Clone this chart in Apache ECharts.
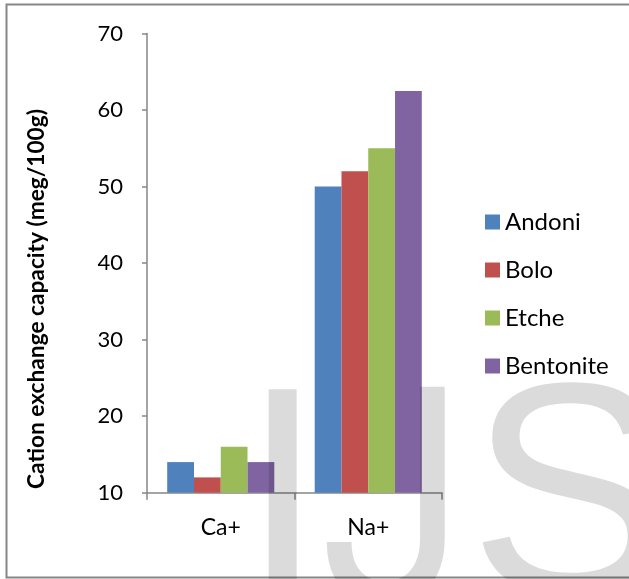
<!DOCTYPE html>
<html>
<head>
<meta charset="utf-8">
<title>Cation exchange capacity</title>
<script src="https://cdn.jsdelivr.net/npm/echarts@6/dist/echarts.min.js"></script>
<style>
  html, body { margin: 0; padding: 0; background: #fff; }
  #chart { width: 629px; height: 579px; }
</style>
</head>
<body>
<div id="chart"></div>
<script>
// Exchangeable cations measured for each clay sample (meq/100g)
const categories = ['Ca+', 'Na+'];
const andoni = [14, 50];
const bolo = [12, 52];
const etche = [16, 55];
const bentonite = [14, 62.5];
const seriesNames = ['Andoni', 'Bolo', 'Etche', 'Bentonite'];
const seriesColors = ['#4F81BD', '#C0504D', '#9BBB59', '#8064A2'];
const yTitle = 'Cation exchange capacity (meg/100g)';

const FONT = 'Lato, "Open Sans", sans-serif';
const AXIS_GREY = '#868686';
const WATERMARK_FILL = 'rgba(0,0,0,0.14)';

const chart = echarts.init(document.getElementById('chart'), null, { renderer: 'canvas' });

const seriesData = [andoni, bolo, etche, bentonite];

// journal watermark letters, laid over the plot
const watermark = [
  { ch: 'I', x: 241, y: 513, font: '300px "Liberation Sans", sans-serif', sx: 1 },
  { ch: 'J', x: 320, y: 526, font: '302px Roboto, sans-serif', sx: 0.87 },
  { ch: 'S', x: 469, y: 509, font: '300px "Liberation Sans", sans-serif', sx: 1 }
];

chart.setOption({
  animation: false,
  backgroundColor: '#ffffff',
  grid: { left: 147, top: 33.5, width: 295, height: 459.2, containLabel: false },
  legend: {
    data: seriesNames,
    orient: 'vertical',
    left: 480,
    top: 205,
    itemWidth: 15,
    itemHeight: 15,
    itemGap: 24,
    icon: 'rect',
    textStyle: { fontFamily: FONT, fontSize: 24, color: '#000', lineHeight: 24 }
  },
  xAxis: {
    type: 'category',
    data: categories,
    boundaryGap: true,
    axisLine: { show: true, lineStyle: { color: AXIS_GREY, width: 1.5 } },
    axisTick: { show: true, alignWithLabel: false, length: 7, lineStyle: { color: AXIS_GREY, width: 1.5 } },
    axisLabel: { fontFamily: FONT, fontSize: 23, color: '#000', margin: 23 },
    splitLine: { show: false }
  },
  yAxis: {
    type: 'value',
    min: 10,
    max: 70,
    interval: 10,
    axisLine: { show: true, lineStyle: { color: AXIS_GREY, width: 1.5 } },
    axisTick: { show: true, inside: false, length: 5, lineStyle: { color: AXIS_GREY, width: 1.5 } },
    axisLabel: { fontFamily: FONT, fontSize: 22, color: '#000', margin: 24 },
    splitLine: { show: false }
  },
  series: seriesNames.map((name, i) => ({
    name: name,
    type: 'bar',
    data: seriesData[i],
    barGap: '0%',
    barCategoryGap: '27.4%',
    itemStyle: { color: seriesColors[i] }
  })),
  graphic: [
    // outer chart frame
    {
      type: 'rect',
      shape: { x: 6.5, y: 4.5, width: 660, height: 573 },
      style: { fill: 'none', stroke: AXIS_GREY, lineWidth: 2 },
      z: 1
    },
    // rotated value-axis title
    {
      type: 'text',
      x: 37,
      y: 299,
      rotation: Math.PI / 2,
      style: {
        text: yTitle,
        font: 'bold 22.7px ' + FONT,
        fill: '#000',
        textAlign: 'center',
        verticalAlign: 'middle'
      },
      z: 10
    },
    ...watermark.map(m => ({
      type: 'text',
      x: m.x,
      y: m.y,
      scaleX: m.sx,
      silent: true,
      style: {
        text: m.ch,
        font: m.font,
        fill: WATERMARK_FILL,
        textAlign: 'left',
        verticalAlign: 'middle'
      },
      z: 100
    }))
  ]
});
</script>
</body>
</html>
